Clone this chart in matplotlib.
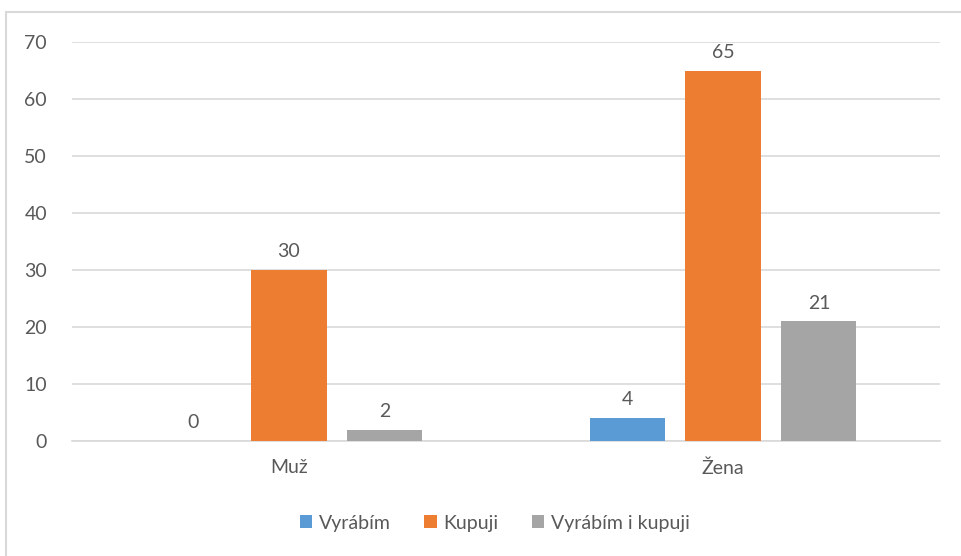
import numpy as np
import matplotlib.pyplot as plt
from matplotlib.patches import Rectangle

# data
categories = ["Muž", "Žena"]
series_names = ["Vyrábím", "Kupuji", "Vyrábím i kupuji"]
vyrabim = [0, 4]
kupuji = [30, 65]
vyrabim_i_kupuji = [2, 21]
colors = ["#5B9BD5", "#ED7D31", "#A5A5A5"]

plt.rcParams['font.family'] = ['Lato', 'DejaVu Sans']
txt_color = "#595959"

fig = plt.figure(figsize=(9.61, 5.56), dpi=100)
ax = fig.add_axes([72 / 961, 1 - 441 / 556, 868 / 961, 399 / 556])

x = np.arange(len(categories))
width = 0.173
step = 0.221
all_series = [vyrabim, kupuji, vyrabim_i_kupuji]
for i, (vals, name, col) in enumerate(zip(all_series, series_names, colors)):
    pos = x + (i - 1) * step
    bars = ax.bar(pos, vals, width, color=col, label=name, zorder=3)
    for b, v in zip(bars, vals):
        ax.annotate(str(v), (b.get_x() + b.get_width() / 2, v),
                    xytext=(0, 7), textcoords="offset points",
                    ha="center", va="bottom", fontsize=14, color=txt_color)

ax.set_xlim(-0.5, 1.5)
ax.set_ylim(0, 70)
ax.set_yticks(range(0, 71, 10))
ax.set_xticks(x)
ax.set_xticklabels(categories)
ax.grid(axis="y", color="#D9D9D9", linewidth=1.2, zorder=0)
for s in ["top", "right", "left"]:
    ax.spines[s].set_visible(False)
ax.spines["bottom"].set_color("#D9D9D9")
ax.spines["bottom"].set_linewidth(1.2)
ax.tick_params(axis="both", length=0, labelsize=14, colors=txt_color)
ax.tick_params(axis="y", pad=18)
ax.tick_params(axis="x", pad=13)

leg = fig.legend(loc="center", bbox_to_anchor=(495 / 961, 1 - 523 / 556), ncol=3,
                 frameon=False, fontsize=14, handlelength=0.65, handleheight=0.65,
                 columnspacing=1.7, handletextpad=0.35)
for t in leg.get_texts():
    t.set_color(txt_color)

# outer chart border
fig.patches.append(Rectangle((6 / 961, -0.1), 1.2, 1 - 12 / 556 + 0.1,
                             transform=fig.transFigure, fill=False,
                             edgecolor="#D9D9D9", linewidth=1.5))

fig.savefig("out.png", dpi=100)
